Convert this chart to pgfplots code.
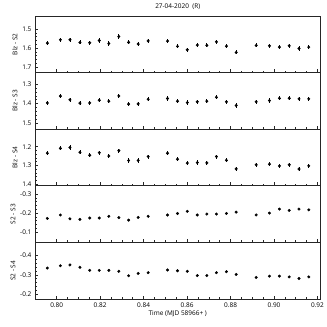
\documentclass[border=0pt]{standalone}
\usepackage{pgfplots}
\usepackage{pgfplotstable}
\usepackage{fontspec}
\setmainfont{Open Sans}
\pgfplotsset{compat=1.18}
\usepgfplotslibrary{groupplots}

\pgfplotstableread{
x      a      b      c      d       f       e
0.7957 1.574  1.397  1.235  -0.172  -0.335  0.011
0.8017 1.556  1.362  1.209  -0.190  -0.347  0.011
0.8061 1.556  1.381  1.204  -0.170  -0.351  0.011
0.8107 1.570  1.398  1.230  -0.167  -0.339  0.011
0.8152 1.572  1.397  1.246  -0.174  -0.323  0.011
0.8196 1.560  1.383  1.232  -0.174  -0.323  0.011
0.8240 1.576  1.388  1.250  -0.183  -0.323  0.011
0.8286 1.539  1.361  1.221  -0.176  -0.318  0.011
0.8331 1.570  1.403  1.274  -0.163  -0.295  0.011
0.8375 1.579  1.402  1.274  -0.177  -0.307  0.011
0.8421 1.562  1.378  1.253  -0.183  -0.311  0.011
0.8510 1.563  1.374  1.235  -0.190  -0.325  0.011
0.8556 1.591  1.388  1.267  -0.198  -0.321  0.011
0.8601 1.609  1.395  1.288  -0.209  -0.318  0.011
0.8647 1.584  1.391  1.285  -0.190  -0.296  0.011
0.8691 1.586  1.388  1.287  -0.195  -0.296  0.011
0.8735 1.567  1.368  1.253  -0.195  -0.311  0.011
0.8781 1.590  1.391  1.273  -0.198  -0.316  0.011
0.8826 1.623  1.410  1.319  -0.205  -0.302  0.011
0.8918 1.586  1.391  1.297  -0.190  -0.286  0.011
0.8979 1.588  1.385  1.294  -0.200  -0.293  0.011
0.9025 1.595  1.373  1.303  -0.221  -0.293  0.011
0.9070 1.588  1.373  1.297  -0.214  -0.289  0.011
0.9115 1.602  1.376  1.320  -0.221  -0.281  0.011
0.9160 1.595  1.376  1.303  -0.217  -0.289  0.011
}\data

\begin{document}
\begin{tikzpicture}
\begin{groupplot}[
  group style={group name=G, group size=1 by 5, vertical sep=0pt, xticklabels at=edge bottom},
  width=286bp, height=56.7bp, scale only axis,
  xmin=0.790, xmax=0.9214,
  xtick={0.80,0.82,0.84,0.86,0.88,0.90,0.92},
  minor x tick num=3, minor y tick num=4,
  y dir=reverse,
  tick pos=left, tick align=inside,
  major tick length=3.5bp, minor tick length=2bp,
  axis line style={line width=0.8pt, black!85},
  every tick/.style={black!85, line width=0.5pt},
  ticklabel style={font=\fontsize{6.5}{7.5}\selectfont},
  label style={font=\fontsize{6.5}{7.5}\selectfont},
  xticklabel style={/pgf/number format/.cd, assume math mode=true, fixed, fixed zerofill, precision=2},
  yticklabel style={/pgf/number format/.cd, assume math mode=true, fixed, fixed zerofill, precision=1},
  ylabel shift=-2pt,
]
\nextgroupplot[title={27-04-2020\ \ (R)}, title style={font=\fontsize{6.5}{7.5}\selectfont, yshift=-3pt},
  ymin=1.43, ymax=1.73, ytick={1.5,1.6,1.7}, ylabel={Blz - S2}]
\addplot[only marks, mark=*, mark size=1.3pt, black, error bars/.cd, y dir=both, y explicit, error bar style={line width=0.8pt}, error mark=none]
  table[x=x, y=a, y error=e] {\data};
\nextgroupplot[ymin=1.24, ymax=1.533, ytick={1.3,1.4,1.5}, ylabel={Blz - S3}]
\addplot[only marks, mark=*, mark size=1.3pt, black, error bars/.cd, y dir=both, y explicit, error bar style={line width=0.8pt}, error mark=none]
  table[x=x, y=b, y error=e] {\data};
\nextgroupplot[ymin=1.106, ymax=1.41, ytick={1.2,1.3,1.4}, ylabel={Blz - S4}]
\addplot[only marks, mark=*, mark size=1.3pt, black, error bars/.cd, y dir=both, y explicit, error bar style={line width=0.8pt}, error mark=none]
  table[x=x, y=c, y error=e] {\data};
\nextgroupplot[ymin=-0.343, ymax=-0.046, ytick={-0.3,-0.2,-0.1}, ylabel={S2 - S3}]
\addplot[only marks, mark=*, mark size=1.3pt, black]
  table[x=x, y=d] {\data};
\nextgroupplot[ymin=-0.468, ymax=-0.174, ytick={-0.4,-0.3,-0.2}, ylabel={S2 - S4},
  xlabel={Time (MJD 58966+ )}, xlabel style={yshift=3pt}]
\addplot[only marks, mark=*, mark size=1.3pt, black]
  table[x=x, y=f] {\data};
\end{groupplot}
\pgfresetboundingbox
\path[use as bounding box] ([shift={(-35bp,16bp)}]G c1r1.north west) rectangle ([shift={(6bp,-28bp)}]G c1r5.south east);
\end{tikzpicture}
\end{document}
